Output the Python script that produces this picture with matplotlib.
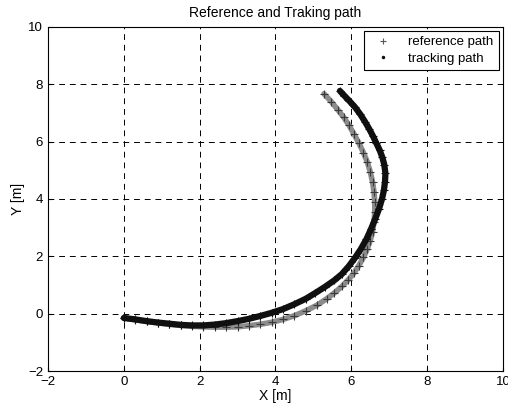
import numpy as np
import matplotlib
matplotlib.use('Agg')
import matplotlib.pyplot as plt

plt.rcParams['font.family'] = ['Liberation Sans', 'DejaVu Sans']

# reference path (lighter band, inner one on the right side)
ref_x = [0.0, 0.3, 0.6, 0.9, 1.2, 1.5, 1.8, 2.1, 2.4, 2.7, 3.0, 3.3, 3.6, 3.9, 4.2,
         4.5, 4.8, 5.1, 5.35, 5.55, 5.75, 5.92, 6.07, 6.2, 6.32, 6.42, 6.5, 6.56,
         6.6, 6.62, 6.62, 6.6, 6.56, 6.5, 6.42, 6.32, 6.2, 6.07, 5.94, 5.8, 5.64,
         5.47, 5.28]
ref_y = [-0.15, -0.21, -0.27, -0.32, -0.37, -0.41, -0.44, -0.46, -0.47, -0.47,
         -0.46, -0.42, -0.37, -0.3, -0.2, -0.07, 0.1, 0.3, 0.52, 0.72, 0.95, 1.18,
         1.42, 1.68, 1.96, 2.25, 2.55, 2.85, 3.2, 3.55, 3.9, 4.25, 4.6, 4.95, 5.3,
         5.62, 5.95, 6.27, 6.57, 6.85, 7.12, 7.4, 7.67]

# tracking path (darker band, outer one on the right side)
trk_x = [0.0, 0.3, 0.6, 0.9, 1.2, 1.5, 1.8, 2.1, 2.4, 2.7, 3.0, 3.3, 3.6, 3.9, 4.2,
         4.5, 4.8, 5.05, 5.3, 5.55, 5.75, 5.93, 6.1, 6.25, 6.4, 6.52, 6.63, 6.73,
         6.81, 6.86, 6.89, 6.9, 6.87, 6.82, 6.75, 6.66, 6.57, 6.47, 6.36, 6.24,
         6.1, 5.95, 5.82, 5.7]
trk_y = [-0.15, -0.2, -0.26, -0.31, -0.35, -0.39, -0.41, -0.41, -0.38, -0.33,
         -0.26, -0.18, -0.08, 0.03, 0.16, 0.33, 0.52, 0.72, 0.93, 1.16, 1.38, 1.65,
         1.95, 2.25, 2.6, 2.95, 3.3, 3.65, 4.0, 4.3, 4.6, 4.9, 5.2, 5.45, 5.7, 5.95,
         6.2, 6.45, 6.7, 6.95, 7.2, 7.42, 7.6, 7.77]

x_ticks = [-2, 0, 2, 4, 6, 8, 10]
y_ticks = [-2, 0, 2, 4, 6, 8, 10]

fig = plt.figure(figsize=(5.08, 4.12), dpi=100)
ax = fig.add_axes([0.0945, 0.0995, 0.8955, 0.835])

# bands, with the '+' hairs on top
ax.plot(ref_x, ref_y, '-', color='#8c8c8c', lw=4, solid_capstyle='round', zorder=2)
ax.plot(ref_x, ref_y, '+', color='#3a3a3a', ms=6, mew=0.8, zorder=2)
ax.plot(trk_x, trk_y, '-', color='#101010', lw=4.5, solid_capstyle='round', zorder=3)
ax.plot(trk_x, trk_y, '+', color='#101010', ms=6, mew=0.8, zorder=3)

# legend entries
ax.plot([], [], '+', color='#555555', ms=5, mew=0.8, label='reference path')
ax.plot([], [], '.', color='#111111', ms=3, label='tracking path')

ax.set_xlim(-2, 10)
ax.set_ylim(-2, 10)
ax.set_xticks(x_ticks)
ax.set_yticks(y_ticks)
ax.tick_params(direction='in', length=3, labelsize=9.5)
ax.grid(True, color='black', linestyle=(0, (6, 5)), linewidth=0.7)
for s in ax.spines.values():
    s.set_linewidth(0.8)

ax.set_title('Reference and Traking path', fontsize=10, pad=7)
ax.set_xlabel('X [m]', fontsize=10, labelpad=1)
ax.set_ylabel('Y [m]', fontsize=10, labelpad=2)

leg = ax.legend(loc='upper right', fontsize=9.5, fancybox=False, framealpha=1,
                edgecolor='black', borderaxespad=0.3, handlelength=2.2,
                labelspacing=0.3, borderpad=0.4)
leg.get_frame().set_linewidth(0.8)

fig.savefig('out.png', dpi=100)
